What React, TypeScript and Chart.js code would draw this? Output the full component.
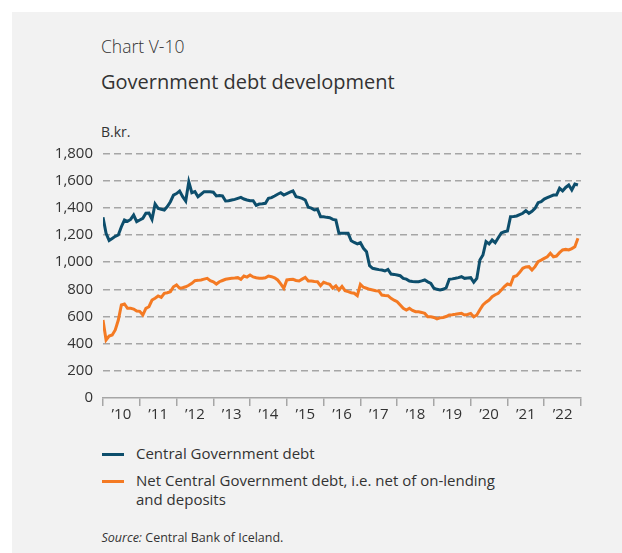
import React, { useEffect, useRef } from "react";
import { Chart, registerables } from "chart.js";

Chart.register(...registerables);

const yearLabels = ["’10", "’11", "’12", "’13", "’14", "’15", "’16", "’17", "’18", "’19", "’20", "’21", "’22"];
const yTickValues = [0, 200, 400, 600, 800, 1000, 1200, 1400, 1600, 1800];

// Monthly, Jan 2010 – Dec 2022, B.kr.
const centralDebt = [
  1330, 1212, 1160, 1175, 1190, 1200, 1261, 1310, 1300, 1315, 1347, 1298,
  1310, 1323, 1360, 1362, 1315, 1428, 1396, 1390, 1384, 1410, 1445, 1494,
  1505, 1524, 1482, 1450, 1592, 1511, 1519, 1482, 1500, 1519, 1518, 1519,
  1515, 1487, 1490, 1487, 1450, 1452, 1458, 1462, 1470, 1477, 1465, 1458,
  1452, 1452, 1418, 1428, 1430, 1433, 1470, 1475, 1487, 1500, 1511, 1494,
  1505, 1515, 1524, 1482, 1477, 1470, 1458, 1404, 1398, 1384, 1390, 1335,
  1335, 1330, 1327, 1315, 1310, 1212, 1212, 1212, 1212, 1158, 1145, 1134,
  1143, 1102, 1077, 974, 955, 950, 945, 942, 935, 947, 913, 910,
  905, 900, 881, 875, 861, 858, 856, 856, 862, 869, 855, 844,
  808, 800, 795, 800, 812, 874, 877, 881, 886, 893, 881, 884,
  886, 852, 881, 1016, 1053, 1151, 1134, 1163, 1143, 1180, 1215, 1224,
  1229, 1335, 1337, 1340, 1350, 1360, 1379, 1360, 1375, 1396, 1438, 1445,
  1465, 1475, 1485, 1494, 1494, 1544, 1524, 1550, 1568, 1531, 1575, 1568,
];

const netDebt = [
  574, 427, 456, 464, 501, 574, 685, 692, 660, 660, 655, 640,
  638, 611, 660, 672, 721, 735, 751, 741, 771, 775, 783, 819,
  832, 808, 812, 819, 830, 844, 864, 866, 869, 875, 881, 864,
  856, 839, 856, 865, 874, 878, 881, 883, 886, 874, 898, 890,
  905, 891, 885, 882, 881, 885, 898, 893, 885, 869, 840, 808,
  869, 872, 874, 865, 861, 875, 888, 861, 861, 858, 856, 827,
  852, 844, 837, 808, 825, 795, 822, 790, 783, 775, 771, 753,
  837, 815, 808, 800, 795, 790, 788, 758, 755, 753, 734, 720,
  709, 685, 660, 648, 660, 645, 635, 635, 630, 623, 598, 598,
  593, 582, 590, 593, 600, 611, 613, 616, 620, 623, 611, 615,
  623, 598, 611, 650, 685, 705, 721, 746, 760, 771, 795, 820,
  839, 832, 893, 900, 925, 955, 965, 967, 942, 967, 1004, 1015,
  1028, 1040, 1065, 1040, 1045, 1070, 1090, 1094, 1090, 1100, 1114, 1176,
];

const BLUE = "#0d4e6c";
const ORANGE = "#f47a23";
const GRID = "#a6a6a6";
const TEXT = "#333333";
const FONT = "'Open Sans', 'Noto Sans', sans-serif";

export default function App() {
  const ref = useRef<HTMLCanvasElement | null>(null);

  useEffect(() => {
    if (!ref.current) return;
    const chart = new Chart(ref.current, {
      type: "line",
      data: {
        datasets: [
          {
            label: "Central Government debt",
            data: centralDebt.map((v, i) => ({ x: i, y: v })),
            borderColor: BLUE,
            borderWidth: 3,
            pointRadius: 0,
            tension: 0,
            fill: false,
          },
          {
            label: "Net Central Government debt, i.e. net of on-lending and deposits",
            data: netDebt.map((v, i) => ({ x: i, y: v })),
            borderColor: ORANGE,
            borderWidth: 3,
            pointRadius: 0,
            tension: 0,
            fill: false,
          },
        ],
      },
      options: {
        animation: false,
        responsive: false,
        maintainAspectRatio: false,
        layout: { padding: { left: 0, right: 41, top: 153.5, bottom: 0 } },
        plugins: { legend: { display: false }, tooltip: { enabled: false } },
        scales: {
          x: {
            type: "linear",
            min: 0,
            max: yearLabels.length * 12,
            afterBuildTicks: (s: any) => {
              const t: any[] = [];
              for (let k = 0; k <= yearLabels.length * 2; k++) t.push({ value: k * 6 });
              s.ticks = t;
            },
            ticks: {
              autoSkip: false,
              maxRotation: 0,
              minRotation: 0,
              padding: 0,
              color: TEXT,
              font: { family: FONT, size: 15 },
              callback: (v: any) => {
                const n = Number(v);
                return n % 12 === 6 ? yearLabels[(n - 6) / 12] : "";
              },
            },
            grid: {
              drawOnChartArea: false,
              drawTicks: true,
              tickLength: 8,
              lineWidth: 1.5,
              color: (ctx: any) => (ctx.tick && ctx.tick.value % 12 === 0 ? GRID : "rgba(0,0,0,0)"),
            },
            border: { display: true, color: GRID, width: 1.5 },
            afterFit: (s: any) => {
              s.height = 42;
            },
          },
          y: {
            min: 0,
            max: 1800,
            afterBuildTicks: (s: any) => {
              s.ticks = yTickValues.map((v) => ({ value: v }));
            },
            ticks: {
              padding: 10,
              color: TEXT,
              font: { family: FONT, size: 15 },
              callback: (v: any) => Number(v).toLocaleString("en-US"),
            },
            grid: {
              drawTicks: false,
              lineWidth: 1.5,
              color: (ctx: any) => (ctx.tick && ctx.tick.value === 0 ? "rgba(0,0,0,0)" : GRID),
            },
            border: { display: false, dash: [7, 4] },
            afterFit: (s: any) => {
              s.width = 103;
            },
          },
        },
      },
    });
    return () => chart.destroy();
  }, []);

  const txt: React.CSSProperties = { position: "absolute", color: TEXT, fontFamily: FONT, whiteSpace: "nowrap", margin: 0 };

  return (
    <div style={{ position: "fixed", left: 0, top: 0, width: 622, height: 553, background: "#ffffff", overflow: "hidden" }}>
      <div style={{ position: "absolute", left: 12, top: 12, right: 0, bottom: 0, background: "#f2f2f2" }} />
      <div style={{ ...txt, left: 101, top: 37.8, fontSize: 17.5, lineHeight: "17.5px", fontWeight: 300 }}>Chart V-10</div>
      <div style={{ ...txt, left: 101, top: 72.2, fontSize: 20, lineHeight: "20px" }}>Government debt development</div>
      <div style={{ ...txt, left: 101, top: 125, fontSize: 14, lineHeight: "14px" }}>B.kr.</div>
      <canvas ref={ref} width={622} height={440} style={{ position: "absolute", left: 0, top: 0, width: 622, height: 440 }} />
      <div style={{ position: "absolute", left: 102, top: 453, width: 22, height: 3, background: BLUE }} />
      <div style={{ ...txt, left: 136, top: 443.5, fontSize: 15, lineHeight: "19.5px" }}>Central Government debt</div>
      <div style={{ position: "absolute", left: 102, top: 480, width: 22, height: 3, background: ORANGE }} />
      <div style={{ ...txt, left: 136, top: 470.5, fontSize: 15, lineHeight: "19.5px" }}>
        Net Central Government debt, i.e. net of on-lending
        <br />
        and deposits
      </div>
      <div style={{ ...txt, left: 101.5, top: 531.5, fontSize: 12.5, lineHeight: "12.5px" }}>
        <i>Source:</i> Central Bank of Iceland.
      </div>
    </div>
  );
}
